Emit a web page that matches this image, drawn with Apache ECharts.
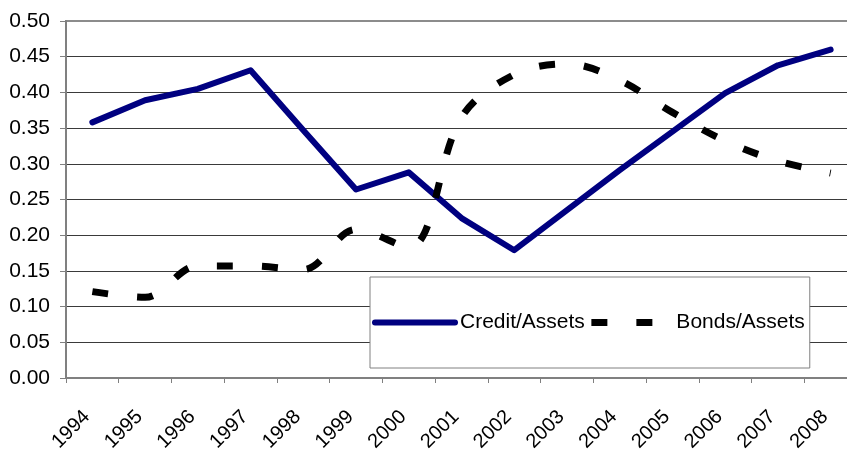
<!DOCTYPE html>
<html>
<head>
<meta charset="utf-8">
<script src="https://cdn.jsdelivr.net/npm/echarts@6/dist/echarts.min.js"></script>
<style>
html,body{margin:0;padding:0;background:#fff;}
#chart{width:847px;height:449px;}
</style>
</head>
<body>
<div id="chart"></div>
<script>
var years = ['1994','1995','1996','1997','1998','1999','2000','2001','2002','2003','2004','2005','2006','2007','2008'];
var creditAssets = [0.358,0.389,0.405,0.431,0.347,0.264,0.288,0.224,0.179,0.235,0.291,0.345,0.399,0.438,0.460];
var bondsAssets = [0.121,0.113,0.157,0.157,0.152,0.208,0.183,0.365,0.425,0.440,0.417,0.372,0.332,0.304,0.287];
var yTicks = {min:0, max:0.5, interval:0.05};

var font = '"Liberation Sans", Arial, sans-serif';
var chart = echarts.init(document.getElementById('chart'));
var splitColors = [];
for (var i = 0; i <= 10; i++) splitColors.push(i === 10 ? '#8c8c8c' : '#3a3a3a');

chart.setOption({
  animation:false,
  backgroundColor:'#ffffff',
  textStyle:{fontFamily:font},
  grid:{left:66, top:21, bottom:71, width:791, containLabel:false, outerBoundsMode:'none',
    show:true, borderColor:'#8c8c8c', borderWidth:2, backgroundColor:'transparent'},
  legend:{
    left:370, top:277,
    padding:[35,5,35,2],
    itemWidth:80, itemHeight:2, itemGap:3,
    borderColor:'#808080', borderWidth:1, backgroundColor:'#ffffff',
    textStyle:{fontFamily:font, fontSize:21, color:'#000', lineHeight:20},
    itemStyle:{opacity:0, color:'rgba(0,0,0,0)', borderWidth:0},
    data:[
      {name:'Credit/Assets', lineStyle:{width:6, cap:'round'}},
      {name:'Bonds/Assets', lineStyle:{width:7, cap:'butt'}}
    ]
  },
  xAxis:{
    type:'category',
    data:years,
    boundaryGap:true,
    axisLine:{lineStyle:{color:'#808080', width:2}},
    axisTick:{show:true, interval:0, length:5, lineStyle:{color:'#808080', width:1}},
    axisLabel:{interval:0, rotate:45, margin:30, fontSize:20, color:'#000', fontFamily:font, padding:[0,8,0,0]},
    splitLine:{show:false}
  },
  yAxis:{
    type:'value',
    min:yTicks.min, max:yTicks.max, interval:yTicks.interval,
    axisLine:{show:true, lineStyle:{color:'#808080', width:2}},
    axisTick:{show:true, length:6, lineStyle:{color:'#808080', width:1}},
    axisLabel:{margin:16, fontSize:21, color:'#000', fontFamily:font,
      formatter:function(v){return v.toFixed(2);}},
    splitLine:{show:true, lineStyle:{color:splitColors, width:1}}
  },
  series:[
    {
      name:'Credit/Assets', type:'line', data:creditAssets,
      symbol:'none', smooth:false,
      lineStyle:{color:'#000080', width:6, cap:'round', join:'round'},
      itemStyle:{color:'#000080'}
    },
    {
      name:'Bonds/Assets', type:'line', data:bondsAssets,
      symbol:'none', smooth:0.35,
      lineStyle:{color:'#000000', width:7, type:[16,29], cap:'butt'},
      itemStyle:{color:'#000000'}
    }
  ]
});
</script>
</body>
</html>
